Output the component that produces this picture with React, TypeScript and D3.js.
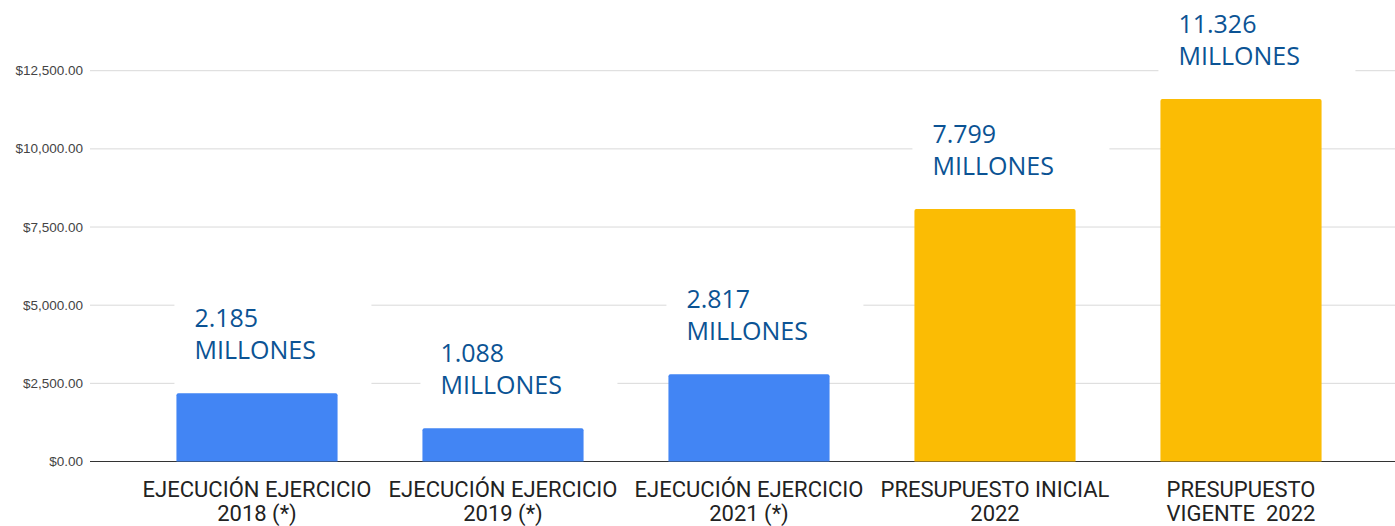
import React from "react";
import * as d3 from "d3";

const categories: string[][] = [
  ["EJECUCIÓN EJERCICIO", "2018 (*)"],
  ["EJECUCIÓN EJERCICIO", "2019 (*)"],
  ["EJECUCIÓN EJERCICIO", "2021 (*)"],
  ["PRESUPUESTO INICIAL", "2022"],
  ["PRESUPUESTO", "VIGENTE  2022"],
];
const values: number[] = [2181, 1062, 2789, 8077, 11595];
const annotations: string[][] = [
  ["2.185", "MILLONES"],
  ["1.088", "MILLONES"],
  ["2.817", "MILLONES"],
  ["7.799", "MILLONES"],
  ["11.326", "MILLONES"],
];
const barColors: string[] = ["#4285F4", "#4285F4", "#4285F4", "#FBBC04", "#FBBC04"];
const yTicks: number[] = [0, 2500, 5000, 7500, 10000, 12500];

const W = 1395;
const H = 526;

export default function App() {
  const x = d3
    .scaleBand<number>()
    .domain(d3.range(categories.length))
    .range([134, 1364])
    .paddingInner(0.345)
    .paddingOuter(0.1725);
  const y = d3.scaleLinear().domain([0, 12500]).range([461.5, 70.7]);
  const fmt = (v: number) => "$" + d3.format(",.2f")(v);
  const bw = x.bandwidth();
  const r = 2;

  return (
    <svg
      width={W}
      height={H}
      style={{ position: "absolute", left: 0, top: 0, background: "#fff" }}
    >
      {yTicks.map((t) => (
        <g key={t}>
          <line
            x1={90}
            x2={W}
            y1={y(t)}
            y2={y(t)}
            stroke={t === 0 ? "#333" : "#d9d9d9"}
            strokeWidth={1}
          />
          <text
            x={83}
            y={y(t) + 4.5}
            textAnchor="end"
            fontFamily="'Liberation Sans', Arial, sans-serif"
            fontSize={13.5}
            fill="#444"
          >
            {fmt(t)}
          </text>
        </g>
      ))}
      {values.map((v, i) => {
        const x0 = x(i)!;
        const yt = y(v);
        const yb = y(0);
        const d = `M${x0},${yb} L${x0},${yt + r} Q${x0},${yt} ${x0 + r},${yt} L${x0 + bw - r},${yt} Q${x0 + bw},${yt} ${x0 + bw},${yt + r} L${x0 + bw},${yb} Z`;
        return <path key={i} d={d} fill={barColors[i]} />;
      })}
      {values.map((v, i) => {
        const x0 = x(i)!;
        const base = y(v) - 66;
        return (
          <g key={"a" + i}>
            <rect x={x0 - 2} y={base - 40} width={197} height={98} fill="#fff" />
            <text
              fontFamily="'Open Sans', sans-serif"
              fontSize={25}
              fill="#0b5394"
            >
              <tspan x={x0 + 18} y={base}>
                {annotations[i][0]}
              </tspan>
              <tspan x={x0 + 18} y={base + 32}>
                {annotations[i][1]}
              </tspan>
            </text>
          </g>
        );
      })}
      {categories.map((c, i) => {
        const cx = x(i)! + bw / 2;
        return (
          <text
            key={"c" + i}
            textAnchor="middle"
            fontFamily="Roboto, sans-serif"
            fontSize={22}
            fill="#222"
            style={{ whiteSpace: "pre" }}
          >
            <tspan x={cx} y={497}>
              {c[0]}
            </tspan>
            <tspan x={cx} y={521}>
              {c[1]}
            </tspan>
          </text>
        );
      })}
    </svg>
  );
}
